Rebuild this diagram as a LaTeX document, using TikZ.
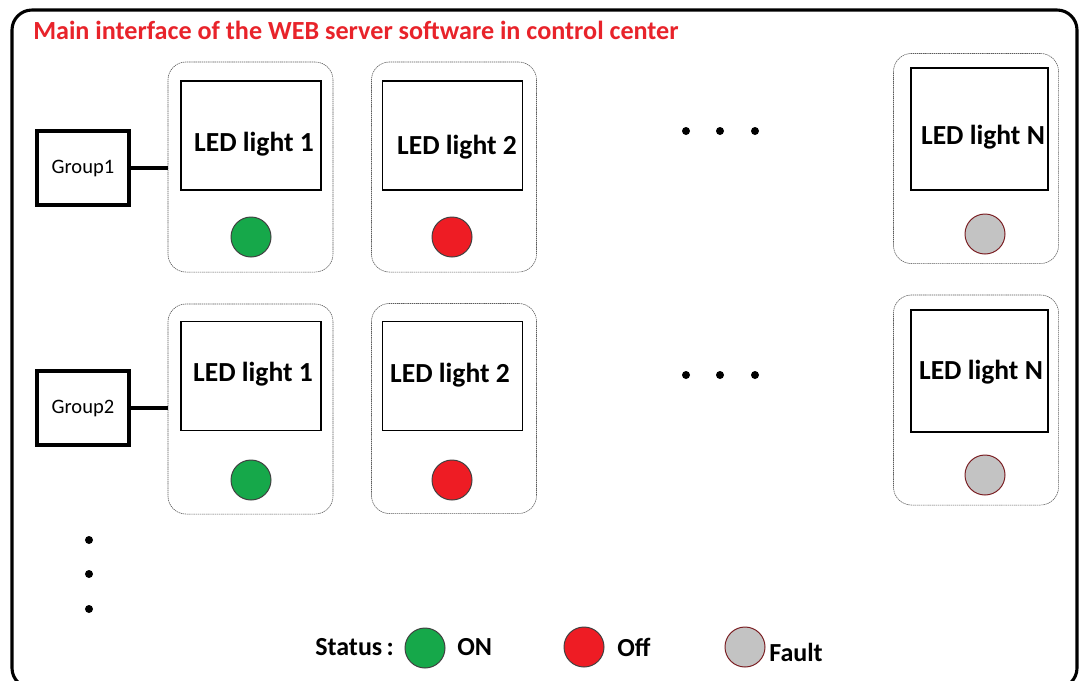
\documentclass[tikz,border=0pt]{standalone}
\usepackage{fontspec}
\setmainfont{Carlito}
\definecolor{titlered}{HTML}{E8232A}
\definecolor{ledgreen}{HTML}{16A84A}
\definecolor{ledred}{HTML}{EE1C24}
\definecolor{ledgray}{HTML}{C3C3C3}
\definecolor{faultrim}{HTML}{7A1E22}
\tikzset{
	card/.style={draw=black!65, dash pattern=on 1pt off 0.5pt, rounded corners=0.45cm, minimum width=4.125cm, minimum height=5.25cm, inner sep=0pt},
	screen/.style={draw, line width=0.8pt, minimum width=3.5cm, minimum height=2.725cm, inner sep=0pt},
	screenN/.style={screen, minimum width=3.425cm, minimum height=3.05cm},
	ledtext/.style={inner sep=0pt, font=\bfseries\fontsize{19.6}{22}\selectfont},
	groupbox/.style={draw, line width=2.2pt, minimum width=2.3cm, minimum height=1.85cm, font=\fontsize{14.6}{17}\selectfont},
	lamp/.style={circle, draw, line width=0.7pt, minimum size=1cm, inner sep=0pt},
	lampon/.style={lamp, fill=ledgreen, draw=black!75},
	lampoff/.style={lamp, fill=ledred, draw=black!75},
	lampfault/.style={lamp, fill=ledgray, draw=faultrim},
	dot/.style={circle, fill=black, minimum size=0.2cm, inner sep=0pt},
	legend/.style={font=\bfseries\fontsize{18.5}{21}\selectfont, inner sep=0pt}
}
\begin{document}
\begin{tikzpicture}[x=0.025cm, y=-0.025cm]
		%%%%% FRAME %%%%%
		\useasboundingbox (0, 0) rectangle (1080, 680);
		\draw[line width=2.2pt, rounded corners=0.5cm] (12, 10) rectangle (1077, 688);
		\node[anchor=west, inner sep=0pt, text=titlered, font=\bfseries\fontsize{18.6}{21}\selectfont] (title) at (33, 30) {Main interface of the WEB server software in control center};
		
		%%%%% ROW 1 %%%%%
		\node[card] (c11) at (250.5, 167) {};
		\node[screen] (s11) at (251, 135.5) {};
		\node[ledtext] (t11) at (254, 144) {LED light 1};
		\node[lampon] (l11) at (251, 237) {};
		
		\node[card] (c12) at (454, 167) {};
		\node[screen] (s12) at (452.5, 135.5) {};
		\node[ledtext] (t12) at (457, 147) {LED light 2};
		\node[lampoff] (l12) at (452, 237) {};
		
		\node[card] (c1n) at (976, 158.5) {};
		\node[screenN] (s1n) at (979.5, 129) {};
		\node[ledtext] (t1n) at (983, 137) {LED light N};
		\node[lampfault] (l1n) at (985, 234) {};
		
		\node[dot] (d11) at (686, 131) {};
		\node[dot] (d12) at (720, 131) {};
		\node[dot] (d13) at (755, 131) {};
		
		\node[groupbox] (g1) at (83, 168) {Group1};
		\draw[line width=2.2pt] (g1.east) -- (g1.east -| c11.west);
		
		%%%%% ROW 2 %%%%%
		\node[card] (c21) at (250.5, 409) {};
		\node[screen] (s21) at (251, 376) {};
		\node[ledtext] (t21) at (253, 374) {LED light 1};
		\node[lampon] (l21) at (251, 480) {};
		
		\node[card] (c22) at (454, 408.5) {};
		\node[screen] (s22) at (452.5, 376) {};
		\node[ledtext] (t22) at (450, 375) {LED light 2};
		\node[lampoff] (l22) at (452, 480) {};
		
		\node[card] (c2n) at (976, 400) {};
		\node[screenN] (s2n) at (979.5, 371) {};
		\node[ledtext] (t2n) at (981, 372) {LED light N};
		\node[lampfault] (l2n) at (985, 475) {};
		
		\node[dot] (d21) at (686, 375) {};
		\node[dot] (d22) at (720, 375) {};
		\node[dot] (d23) at (755, 375) {};
		
		\node[groupbox] (g2) at (83, 408) {Group2};
		\draw[line width=2.2pt] (g2.east) -- (g2.east -| c21.west);
		
		%%%%% MORE GROUPS %%%%%
		\node[dot] (v1) at (89, 540) {};
		\node[dot] (v2) at (89, 574) {};
		\node[dot] (v3) at (89, 609) {};
		
		%%%%% LEGEND %%%%%
		\node[legend, anchor=west] (status) at (315, 647) {Status\,:};
		\node[lampon] (kon) at (425, 648) {};
		\node[legend, anchor=west] (ton) at (457, 647) {ON};
		\node[lampoff] (koff) at (584, 647) {};
		\node[legend, anchor=west] (toff) at (617, 647) {Off};
		\node[lampfault] (kfault) at (745, 647) {};
		\node[legend, anchor=west] (tfault) at (769, 652) {Fault};
\end{tikzpicture}
\end{document}
